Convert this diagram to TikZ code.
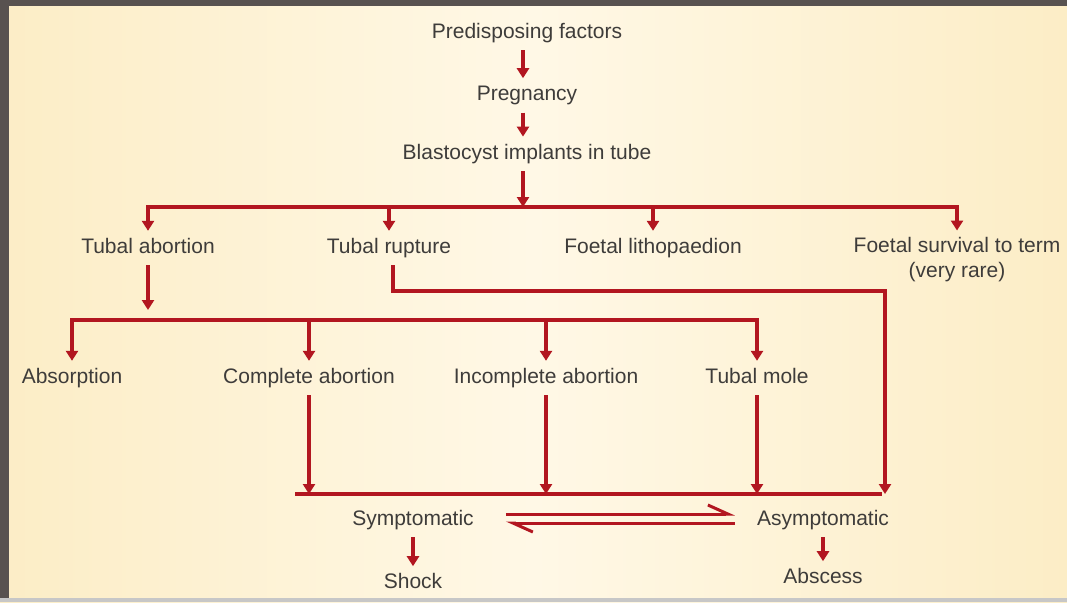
\documentclass[tikz,border=0pt]{standalone}
\usepackage{fontspec}
\setmainfont{Liberation Sans}
\usetikzlibrary{arrows.meta,positioning,calc}
\definecolor{flowred}{RGB}{178,22,32}
\definecolor{txtgray}{RGB}{62,60,58}
\definecolor{creamedge}{RGB}{252,237,198}
\definecolor{creammid}{RGB}{255,248,230}
\definecolor{framegray}{RGB}{88,82,80}

\begin{document}
\begin{tikzpicture}[
    x=1pt, y=-1pt,
    font=\fontsize{21}{25}\selectfont,
    txt/.style={text=txtgray, inner xsep=2pt, inner ysep=7pt, align=center},
    lbl/.style={txt, text height=15.5pt, text depth=4.5pt},
    arrow/.style={-{Triangle[width=12pt,length=10pt]}, line width=3.6pt, draw=flowred},
    bar/.style={line width=3.6pt, draw=flowred, shorten <=-1.8pt, shorten >=-1.8pt},
    eqarrow/.style={-{Straight Barb[left,length=20pt,width=18pt]}, line width=3pt, draw=flowred}
  ]
    \useasboundingbox (0,0) rectangle (1067,602);
    % background and frame
    \shade[left color=creamedge, right color=creamedge, middle color=creammid] (0,0) rectangle (1067,602);
    \fill[framegray] (0,0) rectangle (1067,6);
    \fill[framegray] (0,0) rectangle (9,602);
    \fill[black!22] (0,598) rectangle (1067,602);

    % top chain
    \node[lbl] (pre) at (527,33) {Predisposing factors};
    \node[lbl, below=28pt of pre] (preg) {Pregnancy};
    \node[lbl, below=24pt of preg] (blast) {Blastocyst implants in tube};
    \draw[arrow] ([xshift=-4pt]pre.south) -- ([xshift=-4pt]preg.north);
    \draw[arrow] ([xshift=-4pt]preg.south) -- ([xshift=-4pt]blast.north);

    % first split
    \coordinate (bar1) at (0,207);
    \node[lbl] (tabort) at (148,248) {Tubal abortion};
    \node[lbl] (trupt) at (389,248) {Tubal rupture};
    \node[lbl] (litho) at (653,248) {Foetal lithopaedion};
    \node[txt] (surv) at (957,260) {Foetal survival to term\\(very rare)};
    \draw[arrow] ([xshift=-4pt]blast.south) -- ([xshift=-4pt]blast.south |- bar1);
    \draw[bar] (tabort.north |- bar1) -- (surv.north |- bar1);
    \foreach \n in {tabort,trupt,litho,surv}
      \draw[arrow] (\n.north |- bar1) -- (\n.north);

    % second split
    \coordinate (bar2) at (0,320);
    \node[lbl] (absorp) at (72,378) {Absorption};
    \node[lbl] (compl) at (309,378) {Complete abortion};
    \node[lbl] (incompl) at (546,378) {Incomplete abortion};
    \node[lbl] (mole) at (757,378) {Tubal mole};
    \draw[arrow, shorten >=10pt] (tabort.south) -- (tabort.south |- bar2);
    \draw[bar] (absorp.north |- bar2) -- (mole.north |- bar2);
    \foreach \n in {absorp,compl,incompl,mole}
      \draw[arrow] (\n.north |- bar2) -- (\n.north);

    % outcome bar
    \coordinate (bar3l) at (297,494);
    \coordinate (bar3r) at (880,494);
    \coordinate (ruptbend) at (885,291);
    \draw[bar] (bar3l) -- (bar3r);
    \foreach \n in {compl,incompl,mole}
      \draw[arrow] (\n.south) -- (\n.south |- bar3l);
    \draw[arrow] ([xshift=4pt]trupt.south) |- (ruptbend) -- (ruptbend |- bar3l);

    % bottom
    \node[lbl] (sympt) at (413,520) {Symptomatic};
    \node[lbl] (asympt) at (823,520) {Asymptomatic};
    \node[lbl, below=29pt of sympt] (shock) {Shock};
    \node[lbl, below=24pt of asympt] (absc) {Abscess};
    \draw[arrow] (sympt) -- (shock);
    \draw[arrow] (asympt) -- (absc);
    \draw[eqarrow] ([xshift=30pt,yshift=6pt]sympt.east) -- ([xshift=-20pt,yshift=6pt]asympt.west);
    \draw[eqarrow] ([xshift=-20pt,yshift=-3pt]asympt.west) -- ([xshift=30pt,yshift=-3pt]sympt.east);
  \end{tikzpicture}
\end{document}
